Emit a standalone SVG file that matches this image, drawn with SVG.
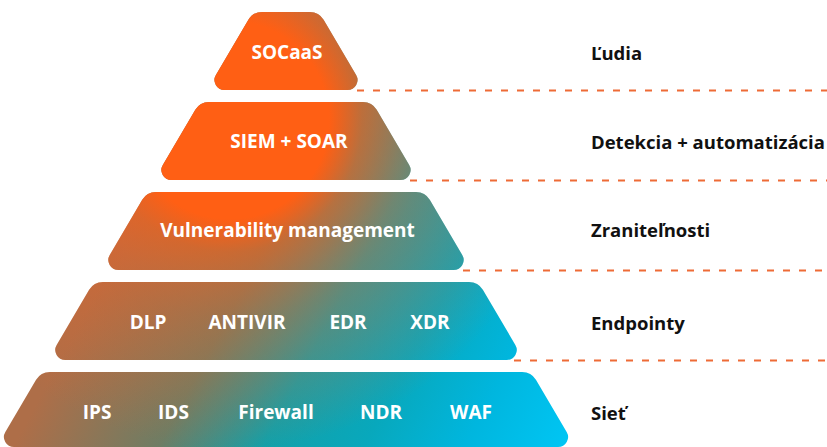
<svg xmlns="http://www.w3.org/2000/svg" xmlns:xlink="http://www.w3.org/1999/xlink" width="827" height="447" viewBox="0 0 827 447">
  <style>
    .tier-base { fill: url(#fill-base); }
    .tier-glow { fill: url(#fill-glow); }
    .in { font-family: "Open Sans", "Noto Sans", "Liberation Sans", sans-serif; font-weight: 700; font-size: 19px; fill: #ffffff; text-anchor: middle; }
    .side { font-family: "Open Sans", "Noto Sans", "Liberation Sans", sans-serif; font-weight: 700; font-size: 18.5px; fill: #111111; }
    .guide { fill: none; stroke: #EE6B36; stroke-width: 2; stroke-dasharray: 7 9; }
  </style>
  <defs>
    <!-- one diagonal colour field shared by every tier -->
    <linearGradient id="fill-base" gradientUnits="userSpaceOnUse" x1="250" y1="0" x2="679.4" y2="227.6">
      <stop offset="0" stop-color="#AE6E48"/>
      <stop offset="0.264" stop-color="#6E7D64"/>
      <stop offset="0.4545" stop-color="#14A0A8"/>
      <stop offset="0.636" stop-color="#08A8BC"/>
      <stop offset="0.818" stop-color="#00B6DE"/>
      <stop offset="1" stop-color="#00C5F3"/>
    </linearGradient>
    <!-- orange glow around the upper tiers -->
    <radialGradient id="fill-glow" gradientUnits="userSpaceOnUse" cx="230" cy="120" r="330">
      <stop offset="0" stop-color="#FF5F14" stop-opacity="1"/>
      <stop offset="0.3" stop-color="#FF5F14" stop-opacity="1"/>
      <stop offset="0.4" stop-color="#FA6018" stop-opacity="0.62"/>
      <stop offset="0.52" stop-color="#F46222" stop-opacity="0.45"/>
      <stop offset="0.6" stop-color="#F46222" stop-opacity="0.35"/>
      <stop offset="1" stop-color="#F46222" stop-opacity="0"/>
    </radialGradient>
    <!-- rounded trapezoid slices of the pyramid -->
    <path id="shape-1" d="M262.1,12 L309.9,12 A16,16 0 0 1 323.62,19.84 L356.12,74.92 A10,10 0 0 1 347.5,90 L224.5,90 A10,10 0 0 1 215.88,74.92 L248.38,19.84 A16,16 0 0 1 262.1,12 Z"/>
    <path id="shape-2" d="M209.02,102 L362.98,102 A16,16 0 0 1 376.7,109.84 L409.2,164.92 A10,10 0 0 1 400.58,180 L171.42,180 A10,10 0 0 1 162.8,164.92 L195.3,109.84 A16,16 0 0 1 209.02,102 Z"/>
    <path id="shape-3" d="M155.94,192 L416.06,192 A16,16 0 0 1 429.78,199.84 L462.28,254.92 A10,10 0 0 1 453.66,270 L118.34,270 A10,10 0 0 1 109.72,254.92 L142.22,199.84 A16,16 0 0 1 155.94,192 Z"/>
    <path id="shape-4" d="M102.86,282 L469.14,282 A16,16 0 0 1 482.86,289.84 L515.36,344.92 A10,10 0 0 1 506.74,360 L65.26,360 A10,10 0 0 1 56.64,344.92 L89.14,289.84 A16,16 0 0 1 102.86,282 Z"/>
    <path id="shape-5" d="M49.78,372 L522.22,372 A16,16 0 0 1 535.94,379.84 L566.67,431.92 A10,10 0 0 1 558.05,447 L13.95,447 A10,10 0 0 1 5.33,431.92 L36.06,379.84 A16,16 0 0 1 49.78,372 Z"/>
  </defs>

  <rect width="827" height="447" fill="#ffffff"/>

  <!-- dashed separators running from each tier to the right edge -->
  <g id="connectors">
    <line class="guide" x1="357" y1="90.5" x2="827" y2="90.5"/>
    <line class="guide" x1="410" y1="180.5" x2="827" y2="180.5"/>
    <line class="guide" x1="463" y1="270.5" x2="827" y2="270.5"/>
    <line class="guide" x1="514" y1="360.5" x2="827" y2="360.5"/>
  </g>

  <g id="tier-socaas">
    <use xlink:href="#shape-1" class="tier-base"/>
    <use xlink:href="#shape-1" class="tier-glow"/>
    <text class="in" x="287" y="59">SOCaaS</text>
  </g>

  <g id="tier-siem-soar">
    <use xlink:href="#shape-2" class="tier-base"/>
    <use xlink:href="#shape-2" class="tier-glow"/>
    <text class="in" x="289" y="148">SIEM + SOAR</text>
  </g>

  <g id="tier-vulnerability">
    <use xlink:href="#shape-3" class="tier-base"/>
    <use xlink:href="#shape-3" class="tier-glow"/>
    <text class="in" x="287.5" y="237">Vulnerability management</text>
  </g>

  <g id="tier-endpoints">
    <use xlink:href="#shape-4" class="tier-base"/>
    <use xlink:href="#shape-4" class="tier-glow"/>
    <text class="in" x="148" y="328.5">DLP</text>
    <text class="in" x="247" y="328.5">ANTIVIR</text>
    <text class="in" x="348" y="328.5">EDR</text>
    <text class="in" x="430" y="328.5">XDR</text>
  </g>

  <g id="tier-network">
    <use xlink:href="#shape-5" class="tier-base"/>
    <use xlink:href="#shape-5" class="tier-glow"/>
    <text class="in" x="97" y="418.5">IPS</text>
    <text class="in" x="173.5" y="418.5">IDS</text>
    <text class="in" x="276" y="418.5">Firewall</text>
    <text class="in" x="381" y="418.5">NDR</text>
    <text class="in" x="471" y="418.5">WAF</text>
  </g>

  <!-- layer names -->
  <g id="layer-ludia"><text class="side" x="591" y="59.5">Ľudia</text></g>
  <g id="layer-detekcia"><text class="side" x="591" y="148.5">Detekcia + automatizácia</text></g>
  <g id="layer-zranitelnosti"><text class="side" x="591" y="237">Zraniteľnosti</text></g>
  <g id="layer-endpointy"><text class="side" x="591" y="329.5">Endpointy</text></g>
  <g id="layer-siet"><text class="side" x="591" y="419.5">Sieť</text></g>
</svg>
